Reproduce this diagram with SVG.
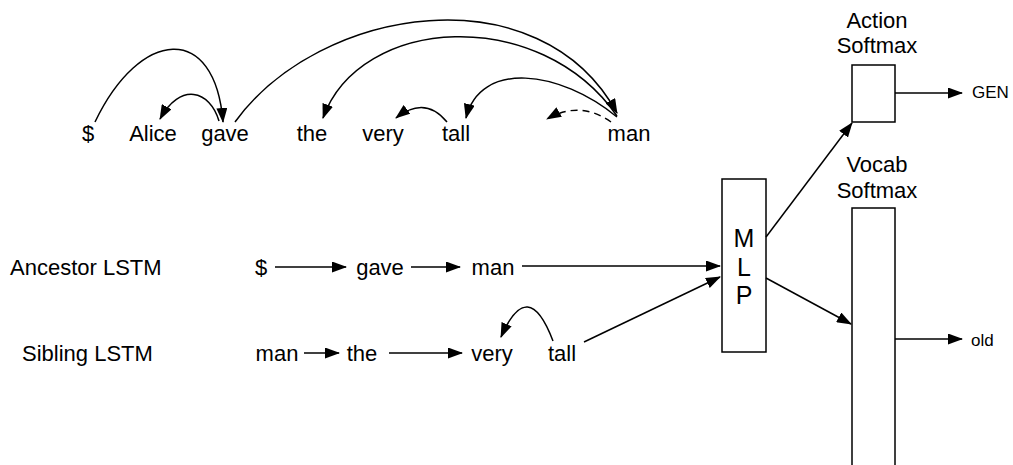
<svg xmlns="http://www.w3.org/2000/svg" width="1013" height="465" viewBox="0 0 1013 465">
  <defs>
    <marker id="arrow" viewBox="0 0 15 11" refX="14" refY="5.5" markerWidth="15" markerHeight="11" markerUnits="userSpaceOnUse" orient="auto">
      <path d="M0,0 L15,5.5 L0,11 z" fill="#000"/>
    </marker>
    <style>
      text { font-family: "Liberation Sans", Arial, Helvetica, sans-serif; fill: #000; }
      .w { font-size: 22px; text-anchor: middle; }
      .lbl { font-size: 22px; }
      .out { font-size: 17px; }
      .mlp { font-size: 25px; text-anchor: middle; }
      .box { fill: #fff; stroke: #000; stroke-width: 1.5; }
      .edge { fill: none; stroke: #000; stroke-width: 1.5; marker-end: url(#arrow); }
      .dash { stroke-dasharray: 7 5; }
    </style>
  </defs>

  <rect width="1013" height="465" fill="#fff"/>

  <!-- dependency tree over the sentence -->
  <g id="sentence">
    <text class="w" x="88" y="141">$</text>
    <text class="w" x="153" y="141">Alice</text>
    <text class="w" x="225" y="141">gave</text>
    <text class="w" x="312" y="141">the</text>
    <text class="w" x="383" y="141">very</text>
    <text class="w" x="456" y="141">tall</text>
    <text class="w" x="629" y="141">man</text>
  </g>

  <!-- LSTM row labels -->
  <g id="ancestor-label"><text class="lbl" x="10" y="275">Ancestor LSTM</text></g>
  <g id="sibling-label"><text class="lbl" x="22" y="361">Sibling LSTM</text></g>

  <!-- ancestor chain -->
  <g id="ancestor-chain">
    <text class="w" x="261" y="275">$</text>
    <text class="w" x="380" y="275">gave</text>
    <text class="w" x="493" y="275">man</text>
  </g>

  <!-- sibling chain -->
  <g id="sibling-chain">
    <text class="w" x="277" y="361">man</text>
    <text class="w" x="362" y="361">the</text>
    <text class="w" x="492" y="361">very</text>
    <text class="w" x="562" y="361">tall</text>
  </g>

  <!-- MLP -->
  <g id="mlp">
    <rect class="box" x="722" y="179" width="44" height="173"/>
    <text class="mlp" x="744" y="247">M</text>
    <text class="mlp" x="744" y="276">L</text>
    <text class="mlp" x="744" y="304">P</text>
  </g>

  <!-- action softmax -->
  <g id="action-softmax">
    <text class="w" x="877" y="28">Action</text>
    <text class="w" x="877" y="53">Softmax</text>
    <rect class="box" x="852" y="65" width="43" height="57"/>
  </g>
  <g id="gen"><text class="out" x="972" y="98">GEN</text></g>

  <!-- vocab softmax -->
  <g id="vocab-softmax">
    <text class="w" x="877" y="172">Vocab</text>
    <text class="w" x="877" y="198">Softmax</text>
    <rect class="box" x="852" y="208" width="43" height="270"/>
  </g>
  <g id="old"><text class="out" x="971" y="346">old</text></g>

  <!-- connectors -->
  <g id="connectors">
    <!-- tree arcs -->
    <path class="edge" d="M95,122 C140,28 215,22 223,122"/>
    <path class="edge" d="M219,121 C210,90 180,82 160,119"/>
    <path class="edge" d="M235,122 C320,5 540,-28 617,113"/>
    <path class="edge" d="M617,116 C540,5 360,15 323,118"/>
    <path class="edge" d="M617,117 C560,70 480,60 466,118"/>
    <path class="edge dash" d="M611,122 Q580,100 547,119"/>
    <path class="edge" d="M447,122 Q425,95 396,118"/>

    <!-- ancestor LSTM -->
    <path class="edge" d="M275,267 L346,267"/>
    <path class="edge" d="M411,267 L460,267"/>
    <path class="edge" d="M522,266 L720,266"/>

    <!-- sibling LSTM -->
    <path class="edge" d="M304,353 L339,353"/>
    <path class="edge" d="M389,353 L462,353"/>
    <path class="edge" d="M553,341 Q528,275 501,337"/>
    <path class="edge" d="M584,342 L720,277"/>

    <!-- MLP outputs -->
    <path class="edge" d="M766,237 L852,123"/>
    <path class="edge" d="M766,278 L851,324"/>
    <path class="edge" d="M895,93 L962,93"/>
    <path class="edge" d="M895,339 L962,339"/>
  </g>
</svg>
